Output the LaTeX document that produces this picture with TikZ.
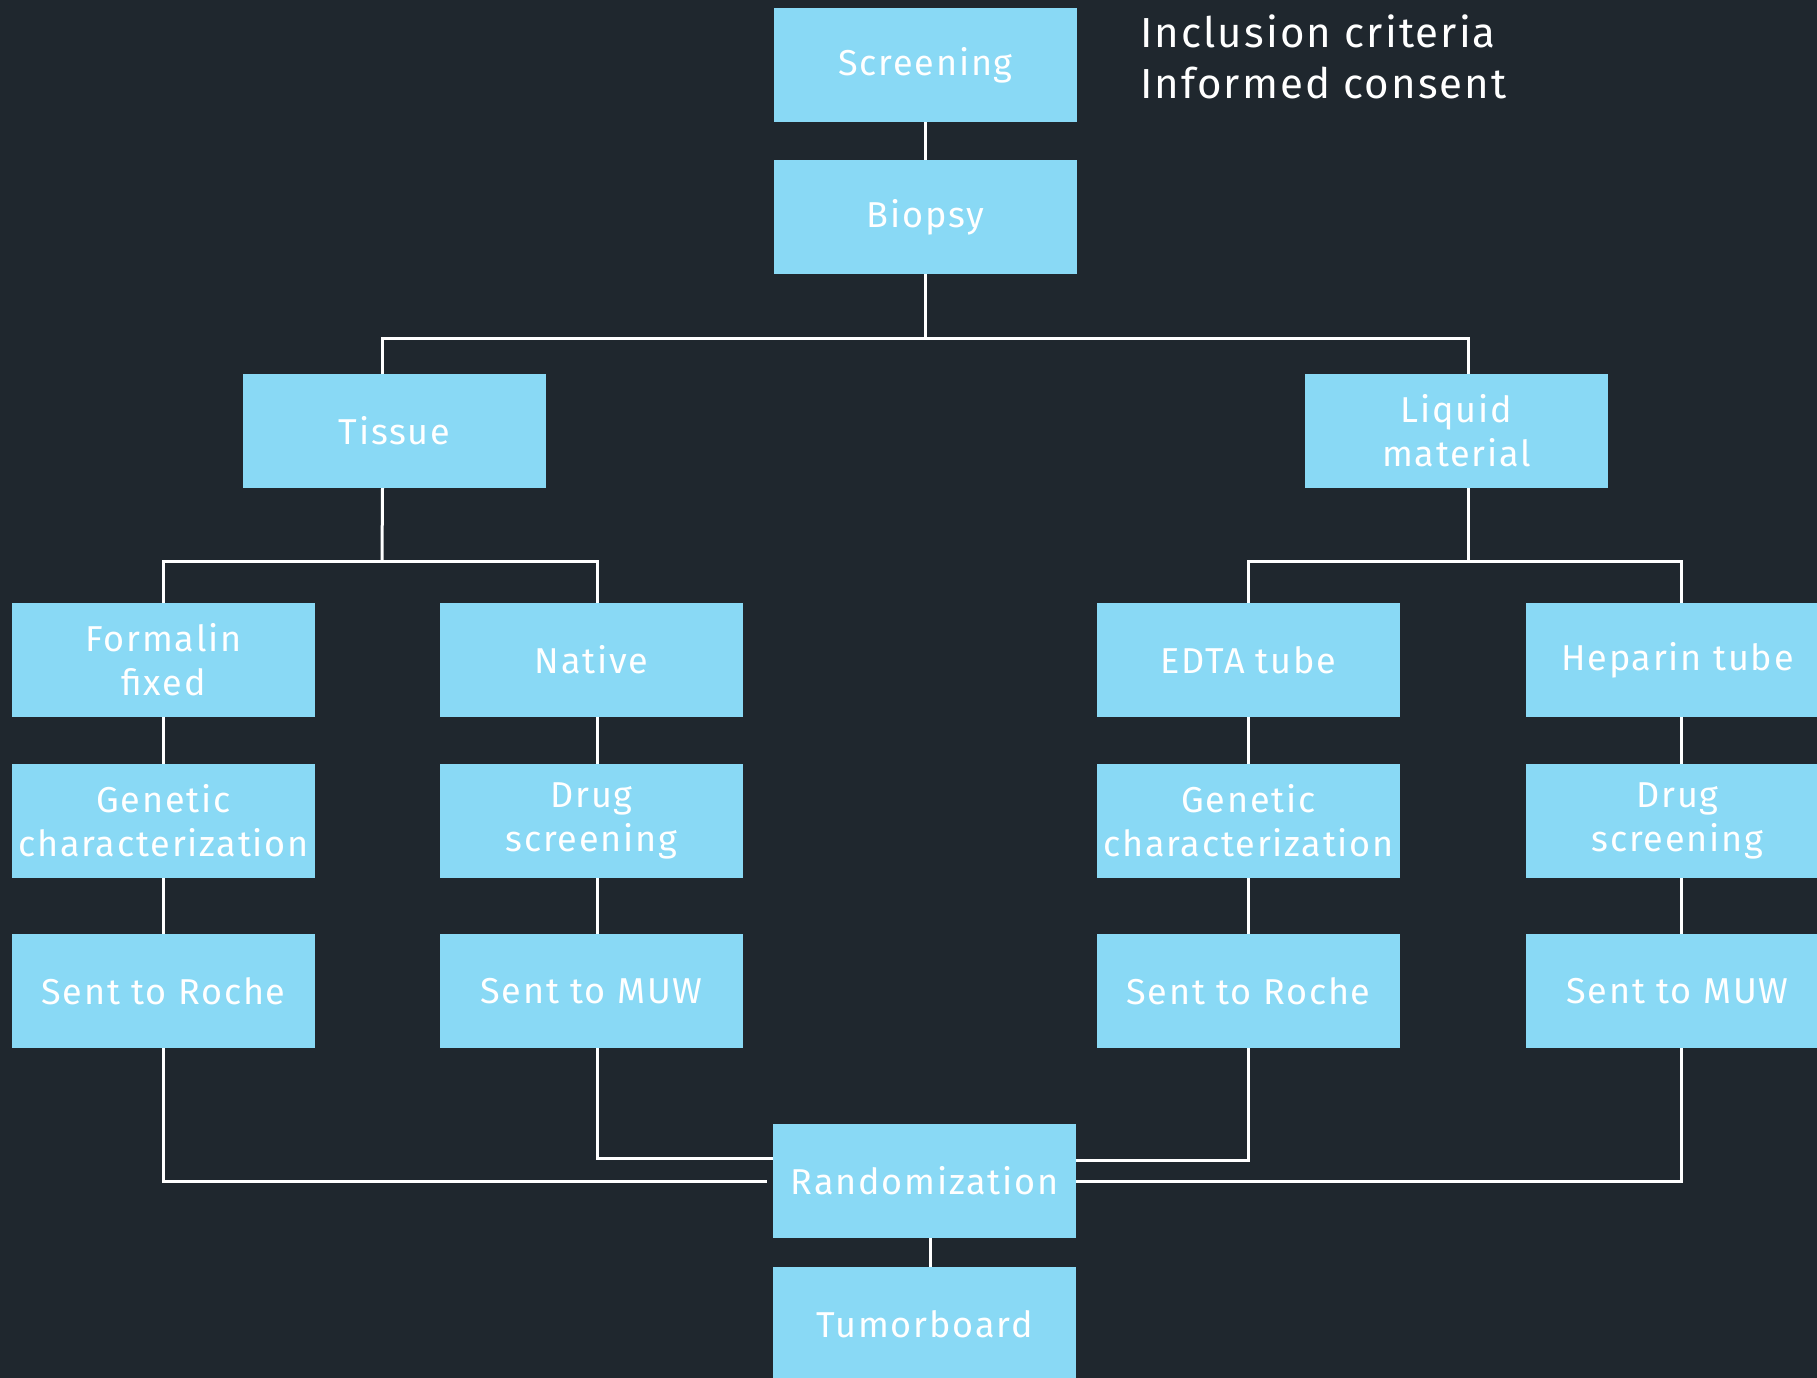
\documentclass[tikz,border=0pt]{standalone}
\usepackage{fontspec}
\setmainfont[LetterSpace=5]{Fira Sans}
\usetikzlibrary{calc}
\definecolor{bg}{RGB}{31,39,46}
\definecolor{boxblue}{RGB}{137,217,245}
\begin{document}
\begin{tikzpicture}[x=1pt,y=-1pt,
  box/.style={fill=boxblue,text=white,minimum width=303pt,minimum height=114pt,inner sep=0pt,align=center,font=\fontsize{36}{44}\selectfont},
  link/.style={draw=white,line width=3pt}]
\useasboundingbox (0,0) rectangle (1817,1378);
\clip (0,0) rectangle (1817,1378);
\fill[bg] (0,0) rectangle (1817,1378);
\node[box] (screen) at (925.5,65) {Screening};
\node[box] (biopsy) at (925.5,217) {Biopsy};
\node[box] (tissue) at (394.5,431) {Tissue};
\node[box] (liquid) at (1456.5,431) {Liquid\\material};
\node[box] (formalin) at (163.5,660) {Formalin\\fixed};
\node[box] (native) at (591.5,660) {Native};
\node[box] (edta) at (1248.5,660) {EDTA tube};
\node[box] (heparin) at (1677.5,660) {Heparin tube};
\node[box] (genF) at (163.5,821) {Genetic\\characterization};
\node[box] (drugN) at (591.5,821) {Drug\\screening};
\node[box] (genE) at (1248.5,821) {Genetic\\characterization};
\node[box] (drugH) at (1677.5,821) {Drug\\screening};
\node[box] (rocheF) at (163.5,991) {Sent to Roche};
\node[box] (muwN) at (591.5,991) {Sent to MUW};
\node[box] (rocheE) at (1248.5,991) {Sent to Roche};
\node[box] (muwH) at (1677.5,991) {Sent to MUW};
\node[box] (random) at (924.5,1181) {Randomization};
\node[box] (tumor) at (924.5,1324) {Tumorboard};
\node[anchor=north west,inner sep=0pt,align=left,text=white,font=\fontsize{42}{51}\selectfont] (criteria) at (1140,15) {Inclusion criteria\\Informed consent};
\coordinate (busA) at (923,338);
\coordinate (busB) at (382,561);
\coordinate (busC) at (1468,561);
\draw[link] (screen) -- (biopsy);
\draw[link] (biopsy.south) -- (biopsy.south |- busA);
\draw[link] ([xshift=-12pt]tissue.north) |- (busA) -| ([xshift=11.5pt]liquid.north);
\draw[link] ([xshift=-12pt]tissue.south) -- (busB);
\draw[link] (formalin.north) |- (busB) -| ([xshift=5.5pt]native.north);
\draw[link] ([xshift=11.5pt]liquid.south) -- (busC);
\draw[link] (edta.north) |- (busC) -| ([xshift=3.5pt]heparin.north);
\draw[link] (formalin) -- (genF) (genF) -- (rocheF);
\draw[link] (edta) -- (genE) (genE) -- (rocheE);
\draw[link] ([xshift=5.5pt]native.south) -- ([xshift=5.5pt]drugN.north) ([xshift=5.5pt]drugN.south) -- ([xshift=5.5pt]muwN.north);
\draw[link] ([xshift=3.5pt]heparin.south) -- ([xshift=3.5pt]drugH.north) ([xshift=3.5pt]drugH.south) -- ([xshift=3.5pt]muwH.north);
\draw[link] (rocheF.south) |- ([xshift=-6pt]random.west);
\draw[link] ([xshift=5.5pt]muwN.south) |- ([yshift=23pt]random.west);
\draw[link] (rocheE.south) |- ([yshift=21pt]random.east);
\draw[link] ([xshift=3.5pt]muwH.south) |- (random.east);
\draw[link] ([xshift=5.5pt]random.south) -- ([xshift=5.5pt]tumor.north);
\end{tikzpicture}
\end{document}
